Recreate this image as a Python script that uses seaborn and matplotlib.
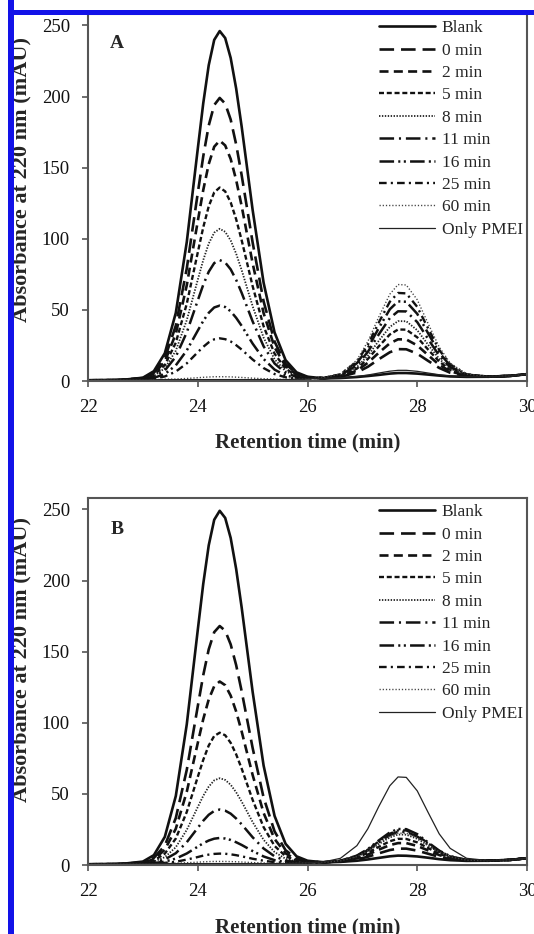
import matplotlib
matplotlib.use("Agg")
import matplotlib.pyplot as plt
import seaborn as sns
import pandas as pd
from matplotlib.patches import Rectangle

series = ["Blank", "0 min", "2 min", "5 min", "8 min", "11 min", "16 min", "25 min", "60 min", "Only PMEI"]

time_min = [22.0, 22.6, 23.0, 23.2, 23.4, 23.6, 23.8, 24.0, 24.1, 24.2, 24.3, 24.4, 24.5, 24.6, 24.7, 24.8,
            25.0, 25.2, 25.4, 25.6, 25.8, 26.0, 26.3, 26.6, 26.9, 27.1, 27.3, 27.5, 27.65, 27.8, 28.0, 28.2,
            28.4, 28.6, 28.9, 29.3, 29.7, 30.0]

# Panel A
A_blank = [0.5, 0.7, 2.3, 6.9, 19.5, 47.9, 97.7, 163.1, 195.2, 222.0, 239.8, 246.0, 241.1, 227.1, 205.6, 178.9, 120.3, 69.1, 34.1, 14.7, 6.1, 3.0,
           1.8, 2.1, 2.8, 3.5, 4.3, 5.2, 5.6, 5.6, 5.2, 4.5, 3.8, 3.2, 2.9, 3.0, 3.6, 4.8]
A_0 = [0.5, 0.7, 2.1, 5.7, 16.0, 38.9, 79.1, 132.0, 157.9, 179.6, 194.0, 199.0, 195.0, 183.8, 166.3, 144.7, 97.4, 56.0, 27.7, 12.1, 5.1, 2.7,
       1.9, 2.9, 6.0, 10.0, 15.3, 20.2, 22.4, 22.3, 19.2, 14.1, 9.2, 5.8, 3.4, 3.0, 3.6, 4.8]
A_2 = [0.5, 0.7, 1.9, 5.0, 13.7, 33.2, 67.3, 112.2, 134.2, 152.5, 164.7, 169.0, 165.6, 156.1, 141.3, 123.0, 82.8, 47.7, 23.7, 10.4, 4.5, 2.5,
       2.0, 3.2, 7.3, 12.8, 19.9, 26.5, 29.3, 29.2, 25.0, 18.1, 11.4, 6.8, 3.7, 3.1, 3.6, 4.8]
A_5 = [0.5, 0.7, 1.7, 4.2, 11.2, 26.9, 54.3, 90.3, 108.0, 122.8, 132.6, 136.0, 133.3, 125.6, 113.7, 99.0, 66.7, 38.5, 19.2, 8.6, 3.9, 2.3,
       2.0, 3.5, 8.7, 15.5, 24.4, 32.7, 36.2, 36.1, 30.7, 22.0, 13.7, 7.8, 3.9, 3.1, 3.6, 4.8]
A_8 = [0.5, 0.7, 1.5, 3.5, 9.0, 21.3, 42.8, 71.1, 85.0, 96.6, 104.3, 107.0, 104.9, 98.8, 89.5, 78.0, 52.6, 30.5, 15.3, 6.9, 3.3, 2.1,
       2.1, 3.8, 9.8, 17.8, 28.3, 38.0, 42.1, 42.0, 35.7, 25.4, 15.6, 8.7, 4.1, 3.1, 3.6, 4.8]
A_11 = [0.5, 0.7, 1.3, 2.9, 7.4, 17.1, 34.2, 56.6, 67.6, 76.8, 82.9, 85.0, 83.3, 78.5, 71.1, 62.0, 41.9, 24.4, 12.3, 5.7, 2.9, 2.0,
        2.1, 4.1, 11.1, 20.5, 32.8, 44.2, 49.0, 48.9, 41.4, 29.4, 17.8, 9.8, 4.3, 3.1, 3.6, 4.8]
A_16 = [0.5, 0.7, 1.1, 2.2, 4.9, 11.0, 21.5, 35.4, 42.2, 47.9, 51.7, 53.0, 52.0, 49.0, 44.4, 38.8, 26.3, 15.5, 8.0, 3.9, 2.2, 1.8,
        2.2, 4.4, 12.5, 23.2, 37.3, 50.4, 56.0, 55.7, 47.2, 33.4, 20.0, 10.8, 4.5, 3.1, 3.6, 4.8]
A_25 = [0.5, 0.7, 1.0, 1.6, 3.2, 6.6, 12.4, 20.2, 24.0, 27.2, 29.3, 30.0, 29.4, 27.8, 25.2, 22.1, 15.1, 9.1, 4.9, 2.6, 1.8, 1.7,
        2.2, 4.7, 13.6, 25.5, 41.2, 55.7, 61.9, 61.6, 52.1, 36.8, 21.9, 11.7, 4.7, 3.1, 3.6, 4.8]
A_60 = [0.5, 0.7, 0.8, 0.9, 1.2, 1.4, 1.8, 2.3, 2.6, 2.8, 3.0, 3.0, 3.0, 2.9, 2.7, 2.5, 2.0, 1.6, 1.3, 1.1, 1.2, 1.5,
        2.3, 5.0, 14.7, 27.8, 45.1, 61.0, 67.8, 67.5, 57.1, 40.2, 23.9, 12.6, 4.9, 3.1, 3.6, 4.8]
A_pmei = [0.5, 0.7, 0.8, 0.9, 1.0, 1.0, 1.0, 1.0, 1.0, 1.0, 1.0, 1.0, 1.0, 1.0, 1.0, 1.0, 1.0, 1.0, 1.0, 1.0, 1.2, 1.5,
          1.8, 2.2, 3.2, 4.2, 5.6, 6.9, 7.5, 7.5, 6.8, 5.6, 4.4, 3.5, 3.0, 3.0, 3.6, 4.8]

# Panel B
B_blank = [0.5, 0.7, 2.4, 6.9, 19.8, 48.5, 98.9, 165.1, 197.6, 224.7, 242.7, 249.0, 244.0, 229.9, 208.1, 181.1, 121.8, 69.9, 34.5, 14.9, 6.1, 3.0,
           1.8, 2.2, 3.0, 3.9, 5.0, 6.1, 6.6, 6.5, 6.0, 5.1, 4.1, 3.4, 2.9, 3.0, 3.6, 4.8]
B_0 = [0.5, 0.7, 1.9, 5.0, 13.6, 33.0, 66.9, 111.5, 133.4, 151.6, 163.7, 168.0, 164.7, 155.1, 140.5, 122.2, 82.3, 47.4, 23.6, 10.4, 4.5, 2.5,
       1.9, 2.4, 3.9, 5.8, 8.2, 10.5, 11.5, 11.5, 10.1, 7.9, 5.7, 4.1, 3.1, 3.0, 3.6, 4.8]
B_2 = [0.5, 0.7, 1.6, 4.0, 10.7, 25.5, 51.5, 85.7, 102.5, 116.4, 125.7, 129.0, 126.4, 119.1, 107.9, 93.9, 63.3, 36.6, 18.3, 8.2, 3.7, 2.3,
       1.9, 2.6, 4.7, 7.3, 10.8, 14.0, 15.4, 15.4, 13.4, 10.2, 7.0, 4.7, 3.2, 3.0, 3.6, 4.8]
B_5 = [0.5, 0.7, 1.4, 3.1, 8.0, 18.6, 37.3, 61.9, 73.9, 84.0, 90.7, 93.0, 91.2, 85.9, 77.8, 67.8, 45.8, 26.6, 13.4, 6.2, 3.0, 2.1,
       1.9, 2.7, 5.2, 8.5, 12.8, 16.7, 18.4, 18.3, 15.9, 11.9, 7.9, 5.2, 3.3, 3.0, 3.6, 4.8]
B_8 = [0.5, 0.7, 1.2, 2.4, 5.5, 12.5, 24.7, 40.7, 48.6, 55.1, 59.5, 61.0, 59.8, 56.4, 51.1, 44.6, 30.2, 17.7, 9.1, 4.4, 2.4, 1.9,
       1.9, 2.9, 5.8, 9.7, 14.7, 19.4, 21.4, 21.3, 18.4, 13.6, 8.9, 5.6, 3.4, 3.0, 3.6, 4.8]
B_11 = [0.5, 0.7, 1.0, 1.8, 3.9, 8.3, 16.0, 26.1, 31.1, 35.3, 38.0, 39.0, 38.2, 36.1, 32.7, 28.6, 19.5, 11.6, 6.1, 3.1, 2.0, 1.7,
        2.0, 3.0, 6.2, 10.4, 16.0, 21.1, 23.4, 23.3, 20.0, 14.7, 9.5, 5.9, 3.5, 3.0, 3.6, 4.8]
B_16 = [0.5, 0.7, 0.9, 1.3, 2.4, 4.5, 8.1, 12.9, 15.3, 17.2, 18.5, 19.0, 18.6, 17.6, 16.0, 14.1, 9.8, 6.0, 3.4, 2.0, 1.6, 1.6,
        2.0, 3.0, 6.6, 11.2, 17.3, 22.9, 25.3, 25.2, 21.7, 15.8, 10.1, 6.2, 3.5, 3.1, 3.6, 4.8]
B_25 = [0.5, 0.7, 0.8, 1.1, 1.5, 2.3, 3.8, 5.6, 6.6, 7.3, 7.8, 8.0, 7.9, 7.5, 6.9, 6.1, 4.4, 3.0, 2.0, 1.4, 1.3, 1.5,
        2.0, 3.0, 6.4, 10.8, 16.6, 22.0, 24.3, 24.3, 20.8, 15.2, 9.8, 6.1, 3.5, 3.0, 3.6, 4.8]
B_60 = [0.5, 0.7, 0.8, 0.9, 1.1, 1.3, 1.6, 2.0, 2.2, 2.4, 2.5, 2.5, 2.5, 2.4, 2.3, 2.1, 1.7, 1.4, 1.2, 1.1, 1.2, 1.5,
        1.9, 2.9, 6.0, 10.0, 15.3, 20.2, 22.4, 22.3, 19.2, 14.1, 9.2, 5.8, 3.4, 3.0, 3.6, 4.8]
B_pmei = [0.5, 0.7, 0.8, 0.9, 1.0, 1.0, 1.0, 1.0, 1.0, 1.0, 1.0, 1.0, 1.0, 1.0, 1.0, 1.0, 1.0, 1.0, 1.0, 1.0, 1.2, 1.5,
          2.2, 4.7, 13.6, 25.5, 41.2, 55.7, 61.9, 61.6, 52.1, 36.8, 21.9, 11.7, 4.7, 3.1, 3.6, 4.8]

panel_A = [A_blank, A_0, A_2, A_5, A_8, A_11, A_16, A_25, A_60, A_pmei]
panel_B = [B_blank, B_0, B_2, B_5, B_8, B_11, B_16, B_25, B_60, B_pmei]

x_ticks = [22, 24, 26, 28, 30]
y_ticks = [0, 50, 100, 150, 200, 250]

styles = {
    "Blank":     dict(ls="-", lw=1.9, color="#111111"),
    "0 min":     dict(ls=(0, (10.5, 5.0)), lw=1.9, color="#111111"),
    "2 min":     dict(ls=(0, (6.5, 3.8)), lw=1.9, color="#111111"),
    "5 min":     dict(ls=(0, (3.6, 2.0)), lw=1.7, color="#111111"),
    "8 min":     dict(ls=(0, (1.0, 1.1)), lw=1.3, color="#222222"),
    "11 min":    dict(ls=(0, (10.5, 3.5, 1.5, 3.5)), lw=1.8, color="#111111"),
    "16 min":    dict(ls=(0, (10.5, 3.0, 1.5, 2.5, 1.5, 3.0)), lw=1.8, color="#111111"),
    "25 min":    dict(ls=(0, (5.5, 3.0, 1.5, 3.0)), lw=1.7, color="#111111"),
    "60 min":    dict(ls=(0, (0.9, 1.4)), lw=1.0, color="#444444"),
    "Only PMEI": dict(ls="-", lw=0.9, color="#222222"),
}

sns.set_style("ticks")
plt.rcParams["font.family"] = ["Liberation Serif", "DejaVu Serif"]
plt.rcParams["lines.scale_dashes"] = False

W, H = 534, 934
fig = plt.figure(figsize=(W / 100, H / 100), dpi=100)

def fx(px):
    return px / W

def fy(py):
    return 1 - py / H

ax_left, ax_right = 88, 527
panels = [("A", panel_A, 14, 381, 180, 442), ("B", panel_B, 498, 865, 660, 927)]

for letter, data, top, bottom, ylab_c, xlab_c in panels:
    ax = fig.add_axes([fx(ax_left), fy(bottom), fx(ax_right - ax_left), (bottom - top) / H])
    for name, ys in zip(series, data):
        df = pd.DataFrame({"t": time_min, "v": ys})
        st = styles[name]
        sns.lineplot(data=df, x="t", y="v", ax=ax, color=st["color"], linewidth=st["lw"],
                     linestyle=st["ls"], label=name, estimator=None, sort=False)
    ax.set_xlim(22, 30)
    ax.set_ylim(0, 258)
    ax.set_xticks(x_ticks)
    ax.set_yticks(y_ticks)
    ax.set_xlabel("")
    ax.set_ylabel("")
    ax.tick_params(axis="both", direction="out", length=4, width=1.2, color="#555555",
                   labelsize=13.5, pad=9, labelcolor="#111111")
    for sp in ax.spines.values():
        sp.set_visible(True)
        sp.set_color("#555555")
        sp.set_linewidth(1.5)
    ax.text(0.066, 0.92 if letter == "A" else 0.915, letter, transform=ax.transAxes,
            fontsize=14, fontweight="bold", ha="center", va="center")
    leg = ax.legend(loc="upper right", bbox_to_anchor=(1.004, 1.0), frameon=False,
                    fontsize=12.5, handlelength=3.2, handletextpad=0.4,
                    labelspacing=0.36, borderpad=0.35, borderaxespad=0)
    fig.text(fx(21), fy(ylab_c), "Absorbance at 220 nm (mAU)", rotation=90,
             ha="center", va="center", fontsize=16, fontweight="bold")
    fig.text(fx(308), fy(xlab_c), "Retention time (min)", ha="center", va="center",
             fontsize=15, fontweight="bold")

# blue selection frame visible in the reference image
blue = "#1212e8"
fig.patches.append(Rectangle((fx(8), 0), fx(6), 1, transform=fig.transFigure,
                             facecolor=blue, edgecolor="none", zorder=10))
fig.patches.append(Rectangle((fx(8), fy(15)), 1 - fx(8), 5 / H, transform=fig.transFigure,
                             facecolor=blue, edgecolor="none", zorder=10))

fig.savefig("out.png", dpi=100)
